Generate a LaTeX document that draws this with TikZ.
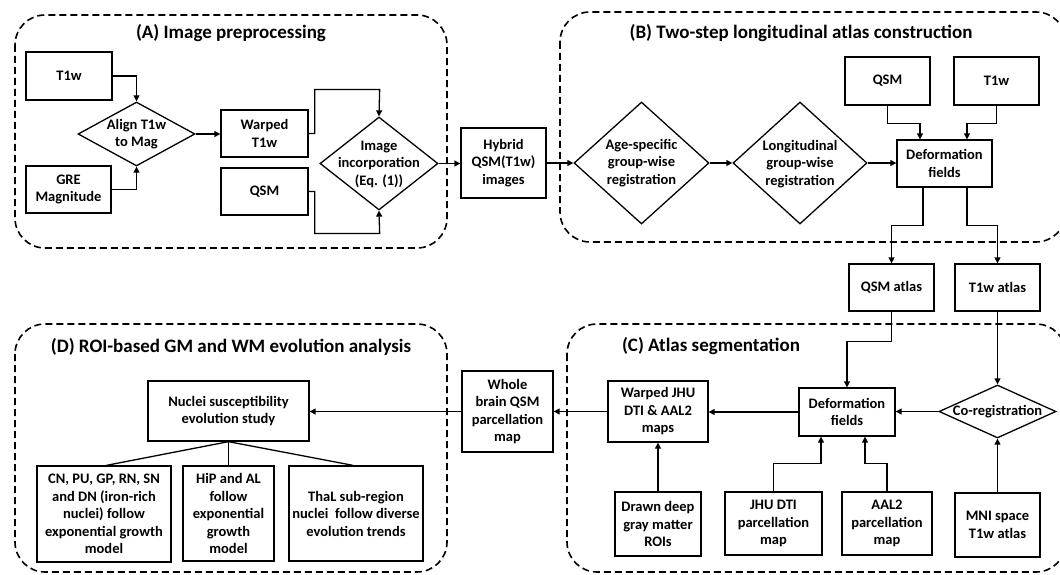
\documentclass[tikz,border=0pt]{standalone}
\usepackage{fontspec}
\setmainfont{Carlito}
\usetikzlibrary{shapes.geometric,arrows.meta}
\begin{document}
\begin{tikzpicture}[x=1pt,y=-1pt,
 box/.style={draw,line width=1.3pt,align=center,inner sep=0pt,font=\fontsize{14.5}{17.5}\selectfont\bfseries},
 dia/.style={draw,diamond,line width=1.3pt,inner sep=0pt},
 lbl/.style={align=center,inner sep=0pt,font=\fontsize{14.5}{17.5}\selectfont\bfseries},
 grp/.style={draw,dash pattern=on 7pt off 4pt,line width=1.6pt,rounded corners=30pt},
 ttl/.style={font=\fontsize{19}{22}\selectfont\bfseries,inner sep=0pt},
 arr/.style={line width=1.3pt,-{Triangle[length=6pt,width=6pt]}},
 ln/.style={line width=1.3pt}]
\clip (0,0) rectangle (1060,575);
\useasboundingbox (0,0) rectangle (1060,575);
% groups
\draw[grp] (15,15) rectangle (447,248);
\draw[grp] (560,12) rectangle (1066,242);
\draw[grp] (567,324) rectangle (1066,572);
\draw[grp] (15,324) rectangle (447,572);
\node[ttl] (ta) at (231,33) {(A) Image preprocessing};
\node[ttl] (tb) at (801,33) {(B) Two-step longitudinal atlas construction};
\node[ttl] (tc) at (711,346) {(C) Atlas segmentation};
\node[ttl] (td) at (231,347) {(D) ROI-based GM and WM evolution analysis};
% A
\node[box,minimum width=86,minimum height=48] (t1a) at (69,76) {T1w};
\node[box,minimum width=85,minimum height=47] (gre) at (68.5,189.5) {GRE\\Magnitude};
\node[dia,minimum width=117,minimum height=64] (aln) at (136.5,134) {};
\node[lbl] (alnt) at (136.5,134) {Align T1w\\to Mag};
\node[box,minimum width=87,minimum height=47] (wt1) at (264.5,133.5) {Warped\\T1w};
\node[box,minimum width=87,minimum height=47] (qsma) at (264.5,191.5) {QSM};
\node[dia,minimum width=118,minimum height=93] (ii) at (379,163.5) {};
\node[lbl] (iit) at (379,164) {Image\\incorporation\\(Eq. (1))};
\node[box,minimum width=85,minimum height=70] (hyb) at (503.5,163) {Hybrid\\QSM(T1w)\\images};
% B
\node[dia,minimum width=135,minimum height=122] (age) at (641.5,163) {};
\node[lbl] (aget) at (641.5,163) {Age-specific\\group-wise\\registration};
\node[dia,minimum width=134,minimum height=122] (lon) at (800,163) {};
\node[lbl] (lont) at (800,164) {Longitudinal\\group-wise\\registration};
\node[box,minimum width=95,minimum height=47] (defb) at (944.5,163.5) {Deformation\\fields};
\node[box,minimum width=85,minimum height=48] (qsmb) at (887.5,81) {QSM};
\node[box,minimum width=85,minimum height=48] (t1b) at (996.5,81) {T1w};
\node[box,minimum width=85,minimum height=47] (qatl) at (891.5,287.5) {QSM atlas};
\node[box,minimum width=85,minimum height=47] (tatl) at (997.5,287.5) {T1w atlas};
% C
\node[box,minimum width=96,minimum height=48] (defc) at (847,412) {Deformation\\fields};
\node[dia,minimum width=117,minimum height=53] (coreg) at (997.5,411.5) {};
\node[lbl] (coregt) at (997.5,411.5) {Co-registration};
\node[box,minimum width=85,minimum height=64] (mni) at (997.5,525) {MNI space\\T1w atlas};
\node[box,minimum width=100,minimum height=61] (wjhu) at (658,411.5) {Warped JHU\\DTI \& AAL2\\maps};
\node[box,minimum width=97,minimum height=63] (jhu) at (773.5,523.5) {JHU DTI\\parcellation\\map};
\node[box,minimum width=90,minimum height=63] (aal) at (887,523.5) {AAL2\\parcellation\\map};
\node[box,minimum width=86,minimum height=64] (drawn) at (658,524) {Drawn deep\\gray matter\\ROIs};
\node[box,minimum width=91,minimum height=81] (whole) at (507.5,411.5) {Whole\\brain QSM\\parcellation\\map};
% D
\node[box,minimum width=161,minimum height=60] (nuc) at (228.5,411) {Nuclei susceptibility\\evolution study};
\node[box,minimum width=134,minimum height=96] (cn) at (104,514) {CN, PU, GP, RN, SN\\and DN (iron-rich\\nuclei) follow\\exponential growth\\model};
\node[box,minimum width=91,minimum height=95] (hip) at (228.5,513.5) {HiP and AL\\follow\\exponential\\growth\\model};
\node[box,minimum width=134,minimum height=95] (thal) at (356,513.5) {ThaL sub-region\\nuclei\ \ follow diverse\\evolution trends};
% connectors A
\draw[arr] (t1a.east) -| (aln.north);
\draw[arr] (gre.east) -| (aln.south);
\draw[arr] (aln.east) -- (aln.east -| wt1.west);
\draw[arr] (wt1.east) -- ++(6,0) |- ++(65,-44) -- (ii.north);
\draw[arr] (qsma.east) -- ++(6,0) |- ++(65,42) -- (ii.south);
\draw[arr] (ii.east) -- (ii.east -| hyb.west);
\draw[arr] (hyb.east) -- (age.west);
% B
\draw[arr] (age.east) -- (lon.west);
\draw[arr] (lon.east) -- (lon.east -| defb.west);
\draw[arr] (qsmb.south) -- ++(0,18) -| ([xshift=-24.5pt]defb.north);
\draw[arr] (t1b.south) -- ++(0,18) -| ([xshift=22.5pt]defb.north);
\draw[arr] ([xshift=-21.5pt]defb.south) -- ++(0,38) -| (qatl.north);
\draw[arr] ([xshift=22.5pt]defb.south) -- ++(0,38) -| (tatl.north);
% C
\draw[arr] (qatl.south) -- ++(0,30) -| (defc.north);
\draw[arr] (tatl.south) -- (coreg.north);
\draw[arr] (mni.north) -- (coreg.south);
\draw[arr] (coreg.west) -- (coreg.west -| defc.east);
\draw[arr] (defc.west) -- (defc.west -| wjhu.east);
\draw[arr] (jhu.north) -- ++(0,-28) -| ([xshift=-26pt]defc.south);
\draw[arr] (aal.north) -- ++(0,-28) -| ([xshift=18pt]defc.south);
\draw[arr] (drawn.north) -- (wjhu.south);
\draw[arr] (wjhu.west) -- (wjhu.west -| whole.east);
\draw[arr] (whole.west) -- (whole.west -| nuc.east);
% D
\draw[ln] (nuc.south) -- ([xshift=2.5pt]cn.north);
\draw[ln] (nuc.south) -- (hip.north);
\draw[ln] (nuc.south) -- ([xshift=-3pt]thal.north);
\end{tikzpicture}
\end{document}
